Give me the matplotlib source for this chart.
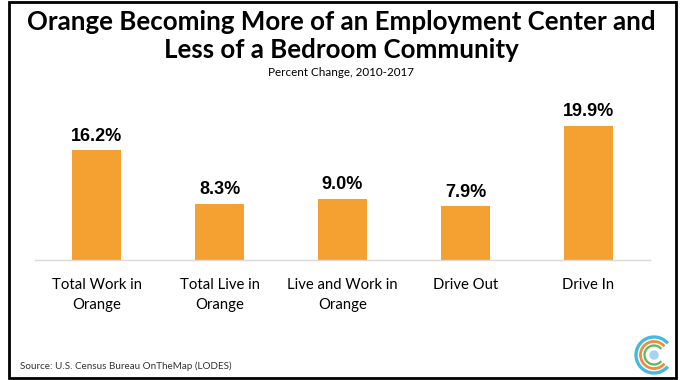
import matplotlib
matplotlib.use("Agg")
import matplotlib.pyplot as plt
from matplotlib.patches import Arc, Circle, Rectangle

categories = ["Total Work in\nOrange", "Total Live in\nOrange", "Live and Work in\nOrange",
              "Drive Out", "Drive In"]
values = [16.2, 8.3, 9.0, 7.9, 19.9]
labels = ["16.2%", "8.3%", "9.0%", "7.9%", "19.9%"]

W, H = 683, 380
fig = plt.figure(figsize=(W / 100, H / 100), dpi=100)
fig.patch.set_facecolor("white")

# border
fig.add_artist(Rectangle((9 / W, 2 / H), 667 / W, 376 / H, transform=fig.transFigure,
                         fill=False, edgecolor="black", linewidth=2))

ax_left, ax_right = 35 / W, 650 / W
ax_bottom = (H - 259.5) / H
ymax = 22
ax_top_px = 259.5 - ymax * 6.73
ax = fig.add_axes([ax_left, ax_bottom, ax_right - ax_left, (259.5 - ax_top_px) / H])
x = range(len(values))
ax.bar(x, values, width=0.4, color="#F4A131")
ax.set_xlim(-0.5, len(values) - 0.5)
ax.set_ylim(0, ymax)
for s in ["top", "right", "left"]:
    ax.spines[s].set_visible(False)
ax.spines["bottom"].set_color("#D9D9D9")
ax.spines["bottom"].set_linewidth(1)
ax.set_yticks([])
ax.set_xticks(list(x))
ax.set_xticklabels(categories, fontsize=10.7, family="Lato", linespacing=1.6)
ax.tick_params(axis="x", length=0, pad=13)
for i, (v, l) in enumerate(zip(values, labels)):
    ax.annotate(l, (i, v), xytext=(0, 4), textcoords="offset points", ha="center",
                va="bottom", fontsize=13, fontweight="bold", family="Liberation Sans")

fig.text(0.5, 1 - 22 / H, "Orange Becoming More of an Employment Center and",
         ha="center", va="center", fontsize=18.6, fontweight="bold", family="Lato")
fig.text(0.5, 1 - 50 / H, "Less of a Bedroom Community",
         ha="center", va="center", fontsize=18.6, fontweight="bold", family="Lato")
fig.text(0.5, 1 - 72 / H, "Percent Change, 2010-2017",
         ha="center", va="center", fontsize=8.4, family="Lato")
fig.text(20 / W, 1 - 366 / H, "Source: U.S. Census Bureau OnTheMap (LODES)",
         ha="left", va="center", fontsize=7.1, family="Lato", color="#333333")

# logo
cx, cy = 654, 355
lax = fig.add_axes([(cx - 22) / W, (H - cy - 22) / H, 44 / W, 44 / H])
lax.set_xlim(-22, 22)
lax.set_ylim(-22, 22)
lax.set_aspect("equal")
lax.axis("off")
for r, c, lw in [(18, "#45B9E0", 2.4), (13.5, "#F28C38", 2.0), (9.5, "#5CB85C", 1.6)]:
    lax.add_patch(Arc((0, 0), 2 * r, 2 * r, theta1=40, theta2=320, color=c, lw=lw))
lax.add_patch(Circle((0, 0), 4, color="#A9D2EE"))

fig.savefig("out.png", dpi=100)
